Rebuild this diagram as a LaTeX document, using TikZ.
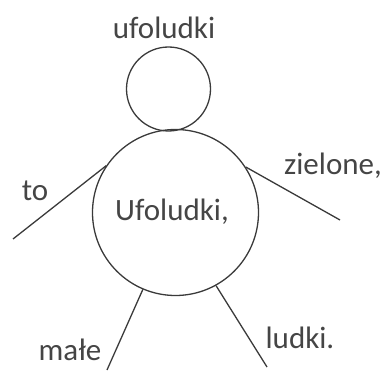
\documentclass[tikz,border=0pt]{standalone}
\usepackage{fontspec}
\setmainfont{Carlito}
\definecolor{ink}{HTML}{3A3A3A}
\definecolor{txt}{HTML}{454545}
\begin{document}
\begin{tikzpicture}[x=1pt,y=1pt,
  ring/.style={draw=ink,line width=1.3pt,circle,inner sep=0pt},
  limb/.style={draw=ink,line width=1.3pt},
  word/.style={text=txt,font=\fontsize{31}{35}\selectfont,inner sep=0pt}]
\useasboundingbox (0,0) rectangle (389,373);
\node[ring,minimum size=84pt] (head) at (168.5,284) {};
\node[ring,minimum size=166pt] (body) at (175.5,160.5) {};
\coordinate (lh) at (13,134);
\coordinate (rh) at (340,153);
\coordinate (lf) at (107,3);
\coordinate (rf) at (267,6);
\draw[limb] (body.146.6) -- (lh);
\draw[limb] (body.33.6) -- (rh);
\draw[limb] (body.247.8) -- (lf);
\draw[limb] (body.299.4) -- (rf);
\node[word] (t1) at (164,345) {ufoludki};
\node[word] (t2) at (172,161) {Ufoludki,};
\node[word] (t3) at (35,182) {to};
\node[word] (t4) at (333,207) {zielone,};
\node[word] (t5) at (300,35) {ludki.};
\node[word] (t6) at (70,23) {małe};
\end{tikzpicture}
\end{document}
